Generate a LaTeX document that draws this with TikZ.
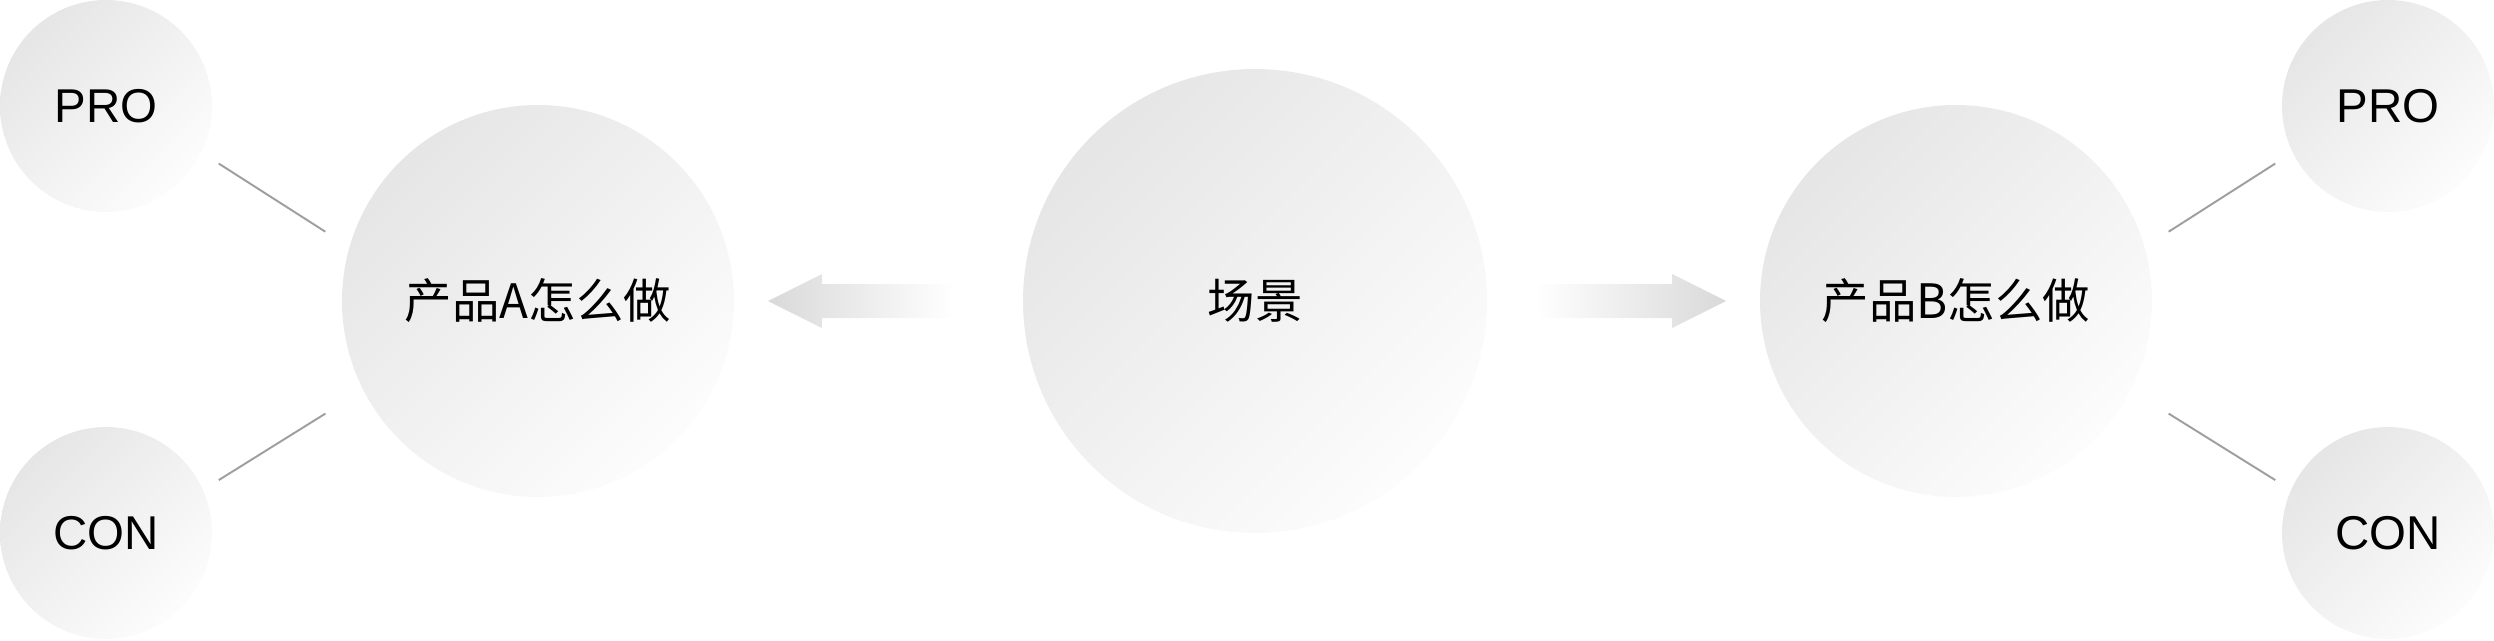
\documentclass[tikz,border=0pt]{standalone}
\usepackage{fontspec}
\setmainfont{Liberation Sans}
\newfontfamily\cjk{Noto Sans CJK SC}
\usetikzlibrary{shapes, calc, positioning}

\begin{document}
\begin{tikzpicture}[x=0.1mm, y=-0.1mm, font=\fontsize{13.5}{16}\selectfont,
    ball/.style={circle, inner sep=0pt, top color=black!10, bottom color=black!1, shading angle=45},
    small/.style={ball, minimum size=21.2mm},
    mid/.style={ball, minimum size=39.2mm},
    big/.style={ball, minimum size=46.4mm},
    link/.style={draw=black!38, line width=0.55pt}]
    \useasboundingbox (0,0) rectangle (2494,640);

    \node[small] (proA) at (106,106) {PRO};
    \node[small] (conA) at (106,533) {CON};
    \node[mid] (pa) at (538,301) {\cjk 产品A怎么做};
    \node[big] (scene) at (1255,301) {\cjk 场景};
    \node[mid] (pb) at (1956,301) {\cjk 产品B怎么做};
    \node[small] (proB) at (2388,106) {PRO};
    \node[small] (conB) at (2388,533) {CON};

    \draw[link, shorten <=2mm, shorten >=2.8mm] (proA.-26) -- (pa.164);
    \draw[link, shorten <=1.8mm, shorten >=4.4mm] (conA.24) -- (pa.-153);
    \draw[link, shorten <=2mm, shorten >=2.8mm] (proB.-154) -- (pb.16);
    \draw[link, shorten <=1.8mm, shorten >=4.4mm] (conB.156) -- (pb.-27);

    % arrows
    \shade[left color=black!15, right color=white] (768,301) -- (822,274) -- (822,284) -- (954,284)
        -- (954,318) -- (822,318) -- (822,328) -- cycle;
    \shade[left color=white, right color=black!15] (1726,301) -- (1672,274) -- (1672,284) -- (1535,284)
        -- (1535,318) -- (1672,318) -- (1672,328) -- cycle;
\end{tikzpicture}
\end{document}
